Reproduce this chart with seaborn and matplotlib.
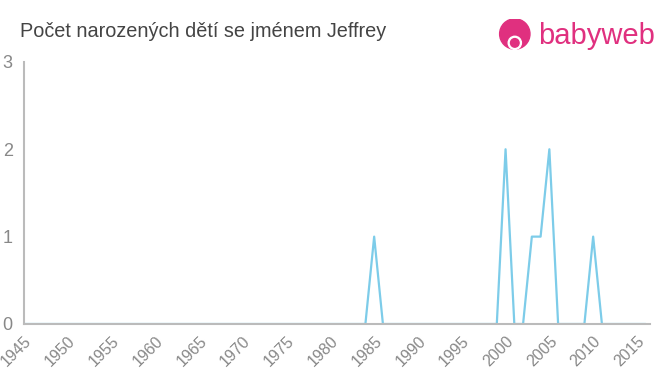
import matplotlib
matplotlib.use("Agg")
import matplotlib.pyplot as plt
import seaborn as sns
import pandas as pd
from matplotlib.patches import Circle

years = list(range(1945, 2017))
nonzero = {1985: 1, 2000: 2, 2003: 1, 2004: 1, 2005: 2, 2010: 1}
counts = [nonzero.get(y, 0) for y in years]
xticks = list(range(1945, 2016, 5))
yticks = [0, 1, 2, 3]
title = "Počet narozených dětí se jménem Jeffrey"

df = pd.DataFrame({"rok": years, "pocet": counts})

sns.set_theme(style="white")
plt.rcParams['font.family'] = ['Liberation Sans', 'DejaVu Sans']

fig = plt.figure(figsize=(6.6, 3.75), dpi=100)
ax = fig.add_axes([0.036, 0.136, 0.949, 0.699])
sns.lineplot(data=df, x="rok", y="pocet", ax=ax, color="#7dcce9", linewidth=1.6)

ax.set_xlim(1945, 2016.5)
ax.set_ylim(0, 3)
ax.set_xticks(xticks)
ax.set_xticklabels([str(t) for t in xticks], rotation=45, ha="right",
                   rotation_mode="anchor", fontsize=11.5, color="#888888")
ax.set_yticks(yticks)
ax.set_yticklabels([str(t) for t in yticks], fontsize=13, color="#888888")
ax.set_xlabel("")
ax.set_ylabel("")
for s in ["top", "right"]:
    ax.spines[s].set_visible(False)
for s in ["left", "bottom"]:
    ax.spines[s].set_color("#bbbbbb")
    ax.spines[s].set_linewidth(1.5)
ax.tick_params(axis="both", length=5, width=1, color="#bbbbbb", pad=2)
ax.tick_params(axis="y", pad=3)
ax.grid(False)

fig.text(0.03, 0.915, title, fontsize=14.3, color="#444444", va="center")

# logo
lax = fig.add_axes([0.755, 0.86, 0.05, 0.09])
lax.set_xlim(0, 1); lax.set_ylim(0, 1); lax.set_aspect("equal"); lax.axis("off")
lax.add_patch(Circle((0.5, 0.55), 0.46, color="#e0307f"))
lax.add_patch(Circle((0.5, 0.28), 0.2, color="white"))
lax.add_patch(Circle((0.5, 0.28), 0.13, color="#e0307f"))
fig.text(0.815, 0.905, "babyweb", fontsize=21, color="#e0307f", va="center")

fig.savefig("out.png", dpi=100, facecolor="white")
